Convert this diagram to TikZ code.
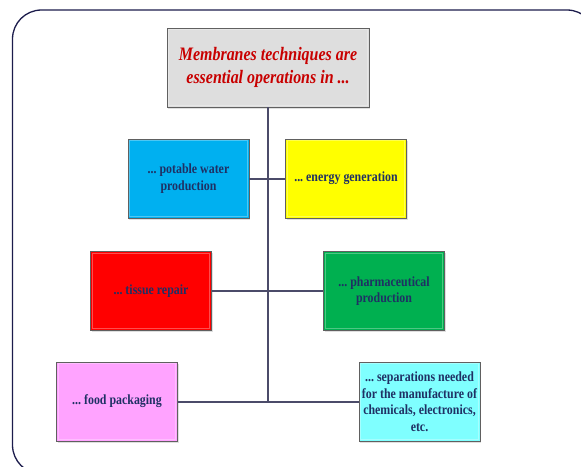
\documentclass[tikz,border=0pt]{standalone}
\usepackage{fontspec}
\setmainfont{Liberation Serif}
\newfontfamily\bodyfont[FakeStretch=0.85]{Liberation Serif}
\newfontfamily\titlefont[FakeStretch=0.84]{Liberation Serif}
\usetikzlibrary{shadows}
\definecolor{navy}{RGB}{31,48,100}
\definecolor{titlered}{RGB}{200,0,0}
\definecolor{linecol}{RGB}{75,75,105}
\definecolor{framecol}{RGB}{28,28,76}
\definecolor{boxgray}{RGB}{222,222,222}
\definecolor{cblue}{RGB}{0,176,240}
\definecolor{cyellow}{RGB}{255,255,0}
\definecolor{cred}{RGB}{255,0,0}
\definecolor{cgreen}{RGB}{0,176,80}
\definecolor{cpink}{RGB}{255,163,255}
\definecolor{ccyan}{RGB}{127,255,255}
\frenchspacing
\begin{document}
\begin{tikzpicture}[x=1pt,y=-1pt,
  boxbase/.style={draw=gray!75!black, line width=0.8pt, inner sep=1pt, align=center,
    drop shadow={shadow xshift=1pt, shadow yshift=-1.5pt, opacity=0.25},
    path picture={\draw[white, opacity=0.3, line width=1.2pt]
      ([shift={(1.8pt,-1.8pt)}]path picture bounding box.north west) rectangle
      ([shift={(-1.8pt,1.8pt)}]path picture bounding box.south east);}},
  itembox/.style={boxbase, minimum width=121pt, minimum height=79pt,
    font=\bodyfont\bfseries\fontsize{14}{16.5}\selectfont, text=navy},
  titlebox/.style={boxbase, fill=boxgray, minimum width=202pt, minimum height=79pt,
    font=\titlefont\bfseries\itshape\fontsize{19}{23}\selectfont, text=titlered},
  conn/.style={draw=linecol, line width=1.5pt}
]
\useasboundingbox (0,0) rectangle (581,466);
\fill[white] (0,0) rectangle (581,466);
\begin{scope}
  \clip (0,0) rectangle (581,466);
  \draw[framecol, line width=1.3pt, rounded corners=29pt] (12.5,10) rectangle (596,474);
\end{scope}

\node[titlebox] (top) at (268,67.5) {Membranes techniques are\\essential operations in ...};

\node[itembox, fill=cblue] (water) at (188.5,178.5) {... potable water\\production};
\node[itembox, fill=cyellow] (energy) at (346,178.5) {... energy generation};
\node[itembox, fill=cred] (tissue) at (151,291) {... tissue repair};
\node[itembox, fill=cgreen] (pharma) at (384,291) {... pharmaceutical\\production};
\node[itembox, fill=cpink] (food) at (117,401.5) {... food packaging};
\node[itembox, fill=ccyan] (sep) at (419.5,401.5) {... separations needed\\for the manufacture of\\chemicals, electronics,\\etc.};

\coordinate (trunkend) at (268,402);
\draw[conn] (top.south) -- (trunkend);
\draw[conn] (water.east |- 0,179) -- (energy.west |- 0,179);
\draw[conn] (tissue.east |- 0,291) -- (pharma.west |- 0,291);
\draw[conn] (food.east |- trunkend) -- (sep.west |- trunkend);
\end{tikzpicture}
\end{document}
